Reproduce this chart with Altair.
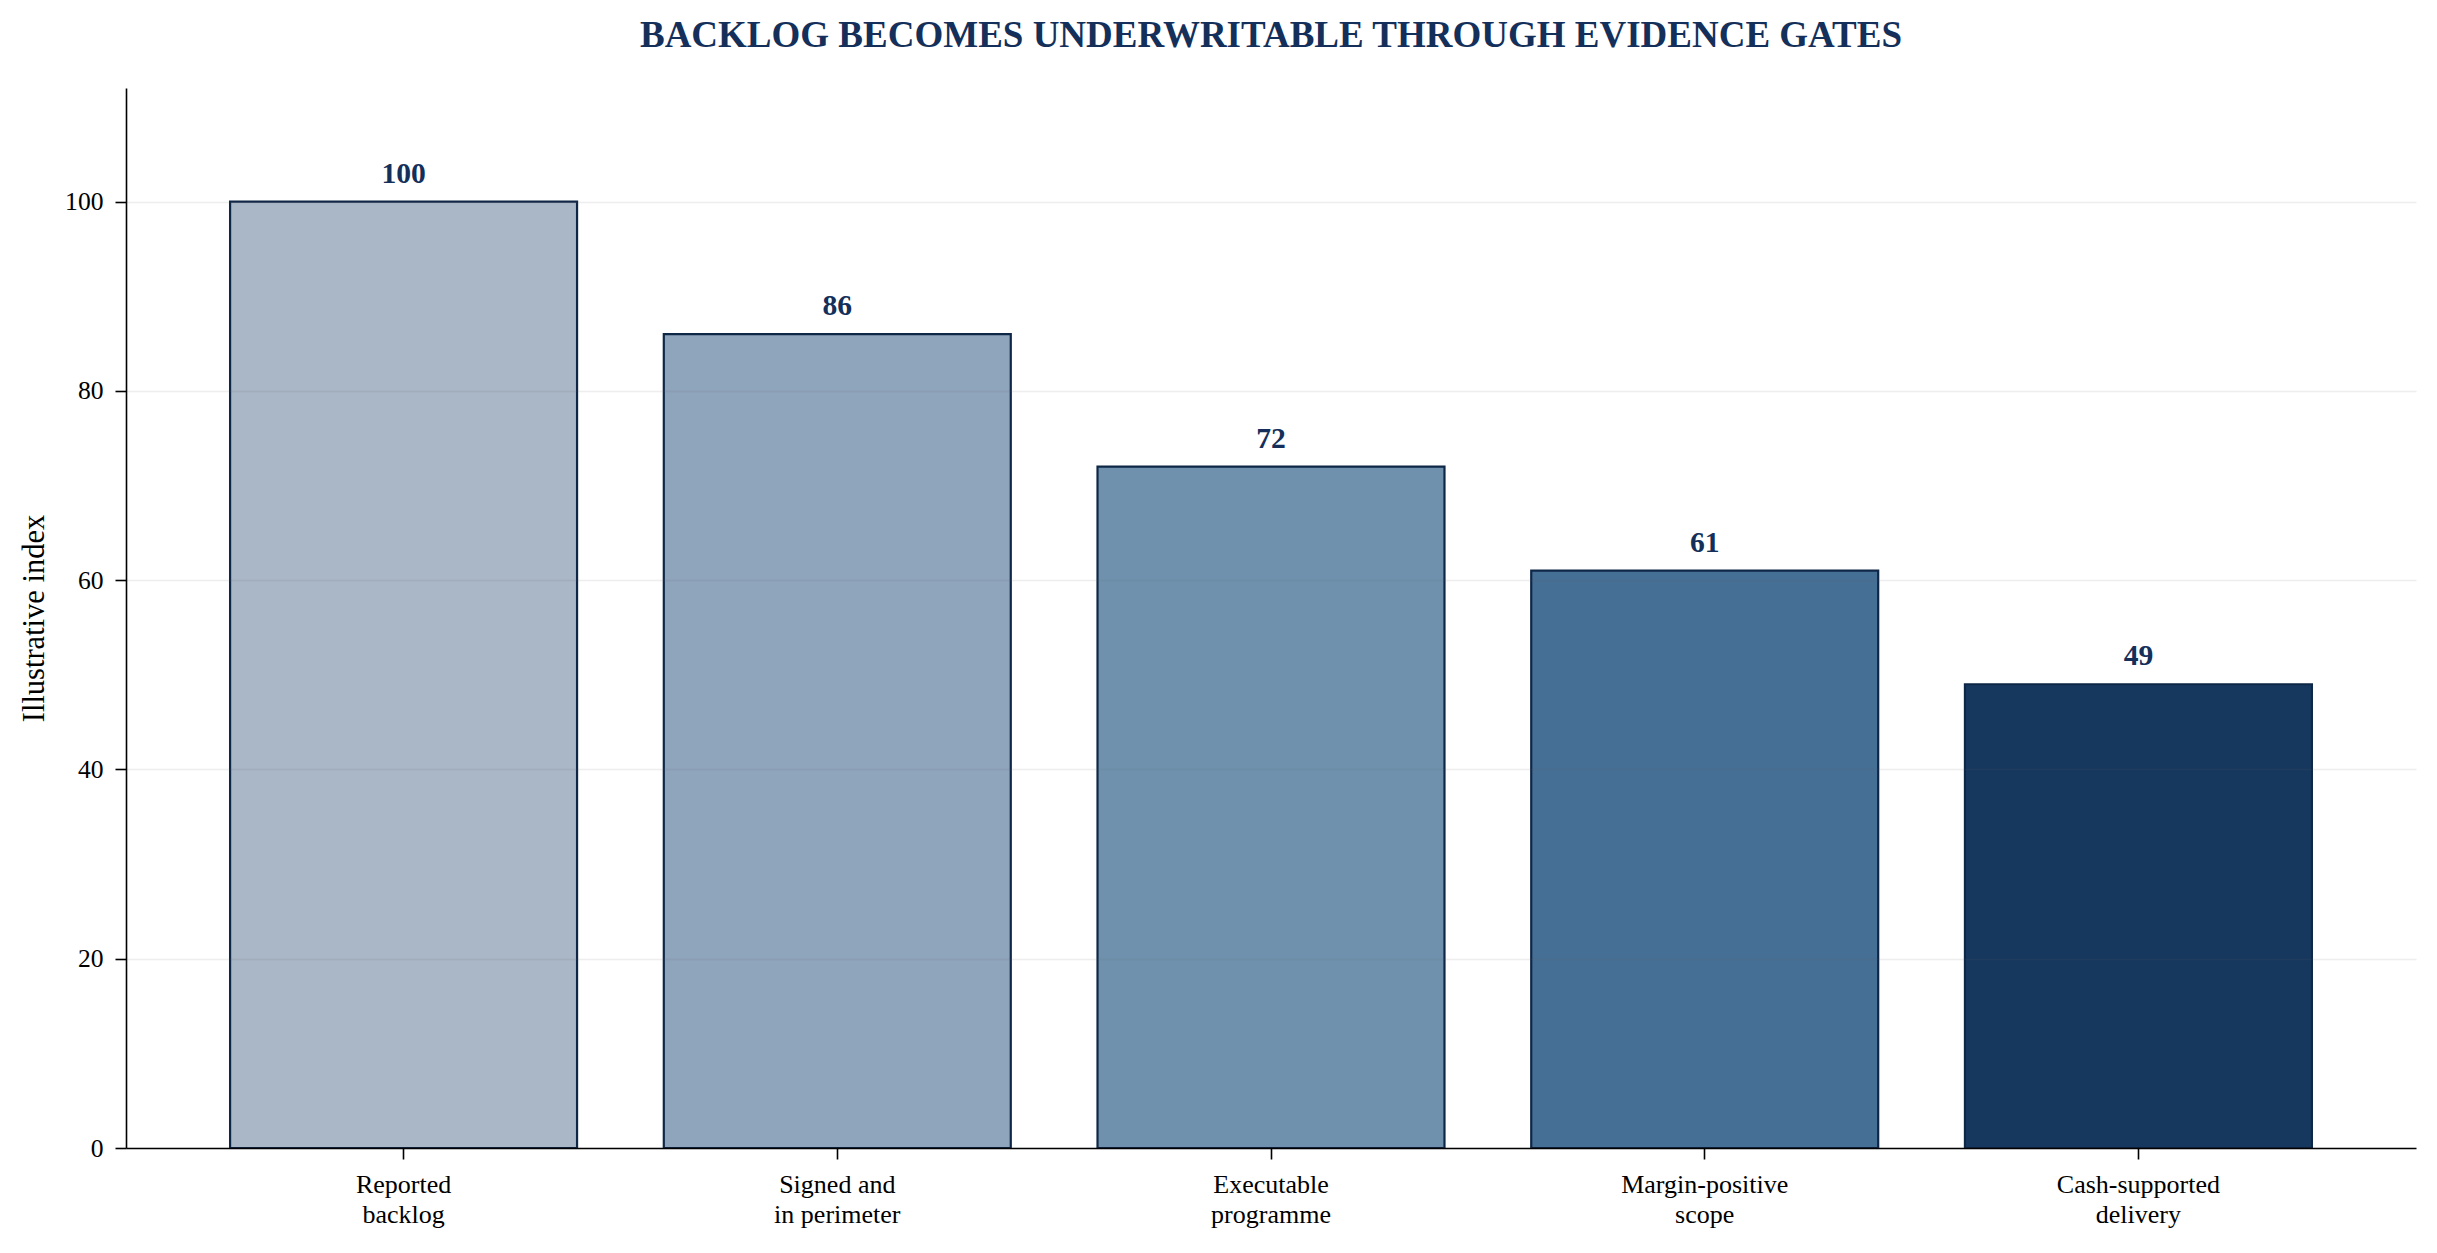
import altair as alt
import pandas as pd

# Data
categories = [
    "Reported|backlog",
    "Signed and|in perimeter",
    "Executable|programme",
    "Margin-positive|scope",
    "Cash-supported|delivery",
]
values = [100, 86, 72, 61, 49]
y_ticks = [0, 20, 40, 60, 80, 100]
bar_colors = ["#aab7c7", "#8fa5bc", "#6f91ad", "#466f95", "#17385e"]

df = pd.DataFrame({"stage": categories, "value": values})

FONT = "Liberation Serif"
NAVY = "#14305a"
EDGE = "#0f2747"

x_enc = alt.X(
    "stage:N",
    sort=categories,
    scale=alt.Scale(paddingInner=0.2, paddingOuter=0.24),
    axis=alt.Axis(
        title=None,
        labelAngle=0,
        labelExpr="split(datum.label, '|')",
        labelFont=FONT,
        labelFontSize=26,
        labelColor="black",
        labelLineHeight=30,
        labelPadding=12,
        labelBaseline="top",
        labelLimit=0,
        tickSize=11,
        tickWidth=1.6,
        tickColor="black",
        domainColor="black",
        domainWidth=1.6,
        grid=False,
        zindex=1,
    ),
)

y_enc = alt.Y(
    "value:Q",
    scale=alt.Scale(domain=[0, 112], nice=False),
    axis=alt.Axis(
        values=y_ticks,
        title="Illustrative index",
        titleFont=FONT,
        titleFontSize=30.5,
        titleFontWeight="normal",
        titleColor="black",
        titleAngle=270,
        titleAlign="center",
        titleBaseline="alphabetic",
        titleX=-83,
        titleY=530,
        labelFont=FONT,
        labelFontSize=25.6,
        labelColor="black",
        labelPadding=12,
        tickSize=11,
        tickWidth=1.6,
        tickColor="black",
        domainColor="black",
        domainWidth=1.6,
        grid=True,
        gridColor="#606060",
        gridOpacity=0.11,
        gridWidth=1.5,
        zindex=1,
    ),
)

bars = alt.Chart(df).mark_bar(stroke=EDGE, strokeWidth=2.2).encode(
    x=x_enc,
    y=y_enc,
    color=alt.Color(
        "stage:N",
        scale=alt.Scale(domain=categories, range=bar_colors),
        legend=None,
    ),
)

labels = alt.Chart(df).mark_text(
    font=FONT,
    fontSize=29.6,
    fontWeight="bold",
    color=NAVY,
    baseline="alphabetic",
    align="center",
    dy=-19,
).encode(
    x=alt.X("stage:N", sort=categories),
    y=alt.Y("value:Q"),
    text=alt.Text("value:Q"),
)

chart = (
    alt.layer(bars, labels)
    .properties(
        width=2290,
        height=1060,
        title=alt.TitleParams(
            text="BACKLOG BECOMES UNDERWRITABLE THROUGH EVIDENCE GATES",
            font=FONT,
            fontSize=37,
            fontWeight="bold",
            color=NAVY,
            anchor="middle",
            frame="group",
            baseline="alphabetic",
            offset=4,
        ),
        autosize=alt.AutoSizeParams(type="none"),
        padding={"left": 118, "top": 80, "right": 12, "bottom": 90},
        background="white",
    )
    .configure_view(stroke=None)
)

chart.save("out.html", embed_options={"renderer": "svg", "actions": False})
